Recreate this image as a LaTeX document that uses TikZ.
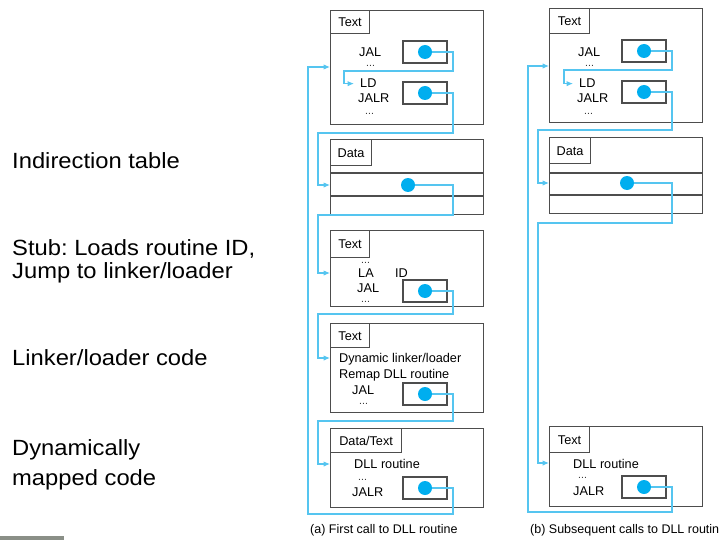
\documentclass[tikz,border=0pt]{standalone}
\usepackage{fontspec}
\setmainfont{Liberation Sans}
\newfontfamily\widesans[FakeStretch=1.08]{Liberation Sans}
\usetikzlibrary{arrows.meta}
\definecolor{frame}{HTML}{4D4D4D}
\definecolor{wire}{HTML}{55C5F0}
\definecolor{ptr}{HTML}{00AEEF}
\definecolor{bar}{HTML}{8A8F87}
\frenchspacing

\tikzset{
  segbox/.style={draw=frame, line width=1.2pt, minimum width=153pt, anchor=north west, inner sep=0pt},
  tabbox/.style={draw=frame, line width=1.2pt, anchor=north west, inner sep=0pt,
                 text height=9pt, text depth=0pt, font=\fontsize{12.7}{14}\selectfont},
  slotbox/.style={draw=frame, line width=1.3pt, minimum width=44pt, minimum height=22pt, inner sep=0pt},
  ptrdot/.style={circle, fill=ptr, minimum size=14pt, inner sep=0pt},
  codetxt/.style={anchor=base west, inner sep=0pt, font=\fontsize{12.7}{14}\selectfont},
  elltxt/.style={anchor=base west, inner sep=0pt, text=black!80, font=\fontsize{10.5}{12}\selectfont},
  sidetxt/.style={anchor=base west, inner sep=0pt, font=\widesans\fontsize{22}{26}\selectfont},
  captxt/.style={anchor=base west, inner sep=0pt, font=\fontsize{12.5}{14}\selectfont},
  wireline/.style={draw=wire, line width=1.1pt},
  wirearrow/.style={wireline, -{Latex[length=6.5pt,width=5.5pt]}},
  rowline/.style={draw=frame, line width=1.2pt},
}

\begin{document}
\begin{tikzpicture}[x=1pt,y=-1pt]
\useasboundingbox (0,0) rectangle (719,540);

% ---------- labels on the left ----------
\node[sidetxt] (l1) at (12,168) {Indirection table};
\node[sidetxt] (l2) at (12,255) {Stub: Loads routine ID,};
\node[sidetxt] (l3) at (12,278) {Jump to linker/loader};
\node[sidetxt] (l4) at (12,365) {Linker/loader code};
\node[sidetxt] (l5) at (12,455) {Dynamically};
\node[sidetxt] (l6) at (12,485) {mapped code};
\fill[bar] (0,536) rectangle (64,540);

% ================= (a) first call =================
% caller text segment
\node[segbox, minimum height=114pt] (a1) at (330,10) {};
\node[tabbox, minimum width=39pt, minimum height=23pt] (a1t) at (a1.north west) {Text};
\node[codetxt] (a1jal) at (359,57) {JAL};
\node[elltxt] (a1e1) at (366,67) {...};
\node[codetxt] (a1ld) at (360,88) {LD};
\node[codetxt] (a1jalr) at (358,103) {JALR};
\node[elltxt] (a1e2) at (365,115) {...};
\node[slotbox] (a1s1) at (425,52) {};
\node[ptrdot] (a1p1) at (425,52) {};
\node[slotbox] (a1s2) at (425,93) {};
\node[ptrdot] (a1p2) at (425,93) {};

% indirection table
\node[segbox, minimum height=75pt] (a2) at (330,139) {};
\node[tabbox, minimum width=41pt, minimum height=26pt] (a2t) at (a2.north west) {Data};
\draw[rowline] (a2.west |- 0,173) -- (a2.east |- 0,173);
\draw[rowline] (a2.west |- 0,196) -- (a2.east |- 0,196);
\node[ptrdot] (a2p) at (408,185) {};

% stub
\node[segbox, minimum height=76pt] (a3) at (330,230) {};
\node[tabbox, minimum width=39pt, minimum height=27pt] (a3t) at (a3.north west) {Text};
\node[elltxt] (a3e1) at (361,263) {...};
\node[codetxt] (a3la) at (358,277) {LA};
\node[codetxt] (a3id) at (395,277) {ID};
\node[codetxt] (a3jal) at (357,292) {JAL};
\node[elltxt] (a3e2) at (361,302.5) {...};
\node[slotbox] (a3s) at (425,291) {};
\node[ptrdot] (a3p) at (425,291) {};

% linker/loader
\node[segbox, minimum height=89pt] (a4) at (330,323) {};
\node[tabbox, minimum width=39pt, minimum height=24pt] (a4t) at (a4.north west) {Text};
\node[codetxt] (a4dyn) at (339,362) {Dynamic linker/loader};
\node[codetxt] (a4map) at (339,378) {Remap DLL routine};
\node[codetxt] (a4jal) at (352,394) {JAL};
\node[elltxt] (a4e) at (359,404) {...};
\node[slotbox] (a4s) at (425,394) {};
\node[ptrdot] (a4p) at (425,394) {};

% DLL routine
\node[segbox, minimum height=79pt] (a5) at (330,428) {};
\node[tabbox, minimum width=71pt, minimum height=24pt] (a5t) at (a5.north west) {Data/Text};
\node[codetxt] (a5dll) at (354,468) {DLL routine};
\node[elltxt] (a5e) at (358,480) {...};
\node[codetxt] (a5jalr) at (352,496) {JALR};
\node[slotbox] (a5s) at (425,488) {};
\node[ptrdot] (a5p) at (425,488) {};

% connectors of (a)
\draw[wirearrow] (a1p1) -- (453,52) |- (344,71) |- ([xshift=-6pt]a1ld.west);
\draw[wirearrow] (a1p2) -- (453,93) |- (318,133) |- (a2.west |- a2p);
\draw[wirearrow] (a2p) -- (453,185) |- (318,215) |- (a3.west |- 0,273);
\draw[wirearrow] (a3p) -- (453,291) |- (318,314) |- (a4.west |- 0,358);
\draw[wirearrow] (a4p) -- (453,394) |- (318,421) |- (a5.west |- 0,464);
\draw[wirearrow] (a5p) -- (453,488) |- (308,514) |- (a1.west |- 0,67);

\node[captxt] (capa) at (310,533) {(a) First call to DLL routine};

% ================= (b) subsequent calls =================
\node[segbox, minimum height=114pt] (b1) at (549,8) {};
\node[tabbox, minimum width=40pt, minimum height=25pt] (b1t) at (b1.north west) {Text};
\node[codetxt] (b1jal) at (578,57) {JAL};
\node[elltxt] (b1e1) at (585,67) {...};
\node[codetxt] (b1ld) at (579,88) {LD};
\node[codetxt] (b1jalr) at (577,103) {JALR};
\node[elltxt] (b1e2) at (584,115) {...};
\node[slotbox] (b1s1) at (644,51) {};
\node[ptrdot] (b1p1) at (644,51) {};
\node[slotbox] (b1s2) at (644,92) {};
\node[ptrdot] (b1p2) at (644,92) {};

\node[segbox, minimum height=76pt] (b2) at (549,137) {};
\node[tabbox, minimum width=41pt, minimum height=26pt] (b2t) at (b2.north west) {Data};
\draw[rowline] (b2.west |- 0,173) -- (b2.east |- 0,173);
\draw[rowline] (b2.west |- 0,195) -- (b2.east |- 0,195);
\node[ptrdot] (b2p) at (627,183) {};

\node[segbox, minimum height=80pt] (b3) at (549,426) {};
\node[tabbox, minimum width=40pt, minimum height=26pt] (b3t) at (b3.north west) {Text};
\node[codetxt] (b3dll) at (573,468) {DLL routine};
\node[elltxt] (b3e) at (578,478) {...};
\node[codetxt] (b3jalr) at (573,495) {JALR};
\node[slotbox] (b3s) at (644,487) {};
\node[ptrdot] (b3p) at (644,487) {};

% connectors of (b)
\draw[wirearrow] (b1p1) -- (672,51) |- (564,70) |- ([xshift=-6pt]b1ld.west);
\draw[wirearrow] (b1p2) -- (672,92) |- (538,130) |- (b2.west |- b2p);
\draw[wirearrow] (b2p) -- (672,183) |- (538,223) |- (b3.west |- 0,463);
\draw[wirearrow] (b3p) -- (672,487) |- (528,512) |- (b1.west |- 0,66);

\node[captxt] (capb) at (530,533) {(b) Subsequent calls to DLL routine};
\end{tikzpicture}
\end{document}
